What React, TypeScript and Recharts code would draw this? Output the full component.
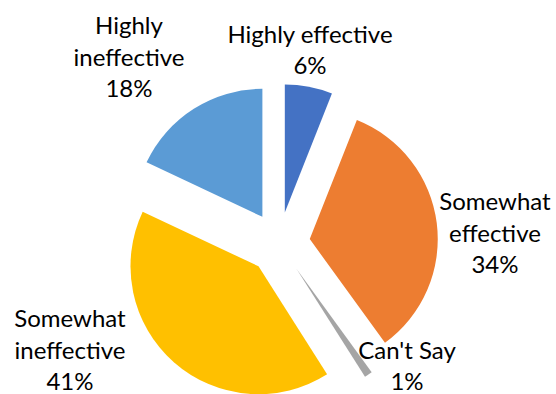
import React from 'react'
import { PieChart, Pie, Cell } from 'recharts'

// survey answers, clockwise from 12 o'clock
const categories = ['Highly effective', 'Somewhat effective', "Can't Say", 'Somewhat ineffective', 'Highly ineffective']
const shares = [6, 34, 1, 41, 18]
const labelLines = [
  ['Highly effective'],
  ['Somewhat', 'effective'],
  ["Can't Say"],
  ['Somewhat', 'ineffective'],
  ['Highly', 'ineffective'],
]

const COLORS = ['#4472C4', '#ED7D31', '#A5A5A5', '#FFC000', '#5B9BD5']

// layout
const W = 556
const H = 394
const CX = 279
const CY = 243
const R = 128
const EXPLODE = 31
const LINE_H = 31.5
// label block centres, relative to the pie centre
const LABEL_OFFSETS = [
  [31, -194],
  [216, -11],
  [128, 122],
  [-209, 106],
  [-150, -187],
]

const data = categories.map((name, i) => ({ name, value: shares[i] }))
const total = shares.reduce((a, b) => a + b, 0)

// every slice pushed out along its own mid angle
const shifts = shares.map((v, i) => {
  const before = shares.slice(0, i).reduce((a, b) => a + b, 0)
  const mid = ((before + v / 2) / total) * 2 * Math.PI
  return { dx: EXPLODE * Math.sin(mid), dy: -EXPLODE * Math.cos(mid) }
})

const makeLabel = (slice: number) => (props: any) => {
  if (props.index !== slice) return null
  const [ox, oy] = LABEL_OFFSETS[slice]
  const lines = [...labelLines[slice], `${shares[slice]}%`]
  const top = CY + oy - ((lines.length - 1) * LINE_H) / 2
  return (
    <text
      x={CX + ox}
      textAnchor="middle"
      fill="#000"
      style={{ fontFamily: 'Lato, sans-serif', fontSize: 24 }}
    >
      {lines.map((l, k) => (
        <tspan key={k} x={CX + ox} y={top + k * LINE_H} dominantBaseline="central">
          {l}
        </tspan>
      ))}
    </text>
  )
}

export default function App() {
  return (
    <div style={{ position: 'absolute', left: 0, top: 0, width: W, height: H, background: '#fff' }}>
      <PieChart width={W} height={H} margin={{ top: 0, right: 0, bottom: 0, left: 0 }}>
        {shifts.map((s, i) => (
          <Pie
            key={categories[i]}
            data={data}
            dataKey="value"
            nameKey="name"
            cx={CX + s.dx}
            cy={CY + s.dy}
            outerRadius={R}
            startAngle={90}
            endAngle={-270}
            stroke="none"
            label={makeLabel(i)}
            labelLine={false}
            isAnimationActive={false}
          >
            {data.map((d, j) => (
              <Cell key={d.name} fill={j === i ? COLORS[j] : 'transparent'} />
            ))}
          </Pie>
        ))}
      </PieChart>
    </div>
  )
}
